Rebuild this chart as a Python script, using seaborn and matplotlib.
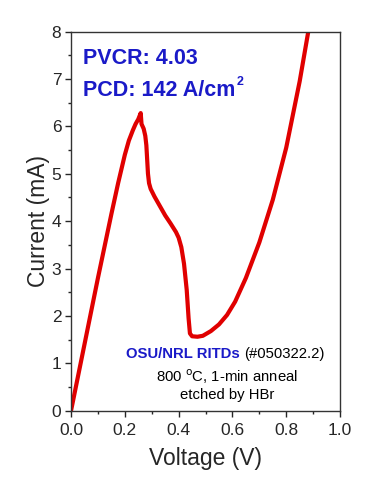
import matplotlib
matplotlib.use("Agg")
import matplotlib.pyplot as plt
import seaborn as sns
import pandas as pd
from matplotlib.ticker import MultipleLocator, FormatStrFormatter

# I-V curve
voltage = [0.0, 0.05, 0.10, 0.15, 0.175, 0.20, 0.215, 0.23, 0.24, 0.25, 0.259,
           0.262, 0.27, 0.276, 0.28, 0.283, 0.286, 0.29, 0.296, 0.31, 0.33,
           0.35, 0.37, 0.39, 0.40, 0.41, 0.42, 0.43, 0.437, 0.442, 0.45, 0.47,
           0.49, 0.52, 0.55, 0.58, 0.61, 0.65, 0.70, 0.75, 0.80, 0.85, 0.882]
current = [0.0, 1.4, 2.8, 4.15, 4.8, 5.4, 5.7, 5.92, 6.05, 6.15, 6.28,
           6.05, 5.95, 5.8, 5.6, 5.3, 5.0, 4.8, 4.68, 4.52, 4.32,
           4.12, 3.95, 3.77, 3.65, 3.45, 3.1, 2.55, 1.95, 1.63, 1.57, 1.56,
           1.58, 1.68, 1.82, 2.02, 2.3, 2.8, 3.55, 4.45, 5.55, 6.95, 8.0]

df = pd.DataFrame({"V": voltage, "I": current})

sns.set_style("ticks")
plt.rcParams['font.family'] = ['Liberation Sans', 'DejaVu Sans']

fig = plt.figure(figsize=(3.7, 4.93), dpi=100)
ax = fig.add_axes([0.192, 0.167, 0.727, 0.769])

sns.lineplot(data=df, x="V", y="I", sort=False, estimator=None,
             color="#e00000", linewidth=3, ax=ax)

ax.set_xlim(0, 1.0)
ax.set_ylim(0, 8)
ax.xaxis.set_major_locator(MultipleLocator(0.2))
ax.xaxis.set_minor_locator(MultipleLocator(0.1))
ax.yaxis.set_major_locator(MultipleLocator(1))
ax.yaxis.set_minor_locator(MultipleLocator(0.5))
ax.xaxis.set_major_formatter(FormatStrFormatter('%.1f'))
ax.tick_params(which='major', length=4, width=1, labelsize=12.5, pad=3)
ax.tick_params(axis='x', which='major', pad=5)
ax.tick_params(which='minor', length=2.5, width=1)
for s in ax.spines.values():
    s.set_linewidth(1)
    s.set_color('#333333')

ax.set_xlabel("Voltage (V)", fontsize=16.5, labelpad=6)
ax.set_ylabel("Current (mA)", fontsize=16.5, labelpad=1)

blue = "#1a1ac8"
ax.text(0.045, 0.930, "PVCR: 4.03", transform=ax.transAxes, color=blue,
        fontsize=15.5, fontweight='bold', va='center')
pcd = ax.text(0.045, 0.844, "PCD: 142 A/cm", transform=ax.transAxes,
              color=blue, fontsize=15.5, fontweight='bold', va='center')
ax.annotate("2", xy=(1, 1), xycoords=pcd, xytext=(1, 3),
            textcoords='offset points', color=blue, fontsize=9,
            fontweight='bold', ha='left', va='top')

ax.text(0.626, 0.150, "OSU/NRL RITDs", transform=ax.transAxes, color=blue,
        fontsize=10.7, fontweight='bold', ha='right', va='center')
ax.text(0.643, 0.150, "(#050322.2)", transform=ax.transAxes, color='black',
        fontsize=10.7, ha='left', va='center')
ax.text(0.58, 0.090, "800 $^\\mathrm{o}$C, 1-min anneal", transform=ax.transAxes,
        color='black', fontsize=10.7, ha='center', va='center')
ax.text(0.58, 0.041, "etched by HBr", transform=ax.transAxes,
        color='black', fontsize=10.7, ha='center', va='center')

fig.savefig("out.png", dpi=100)
